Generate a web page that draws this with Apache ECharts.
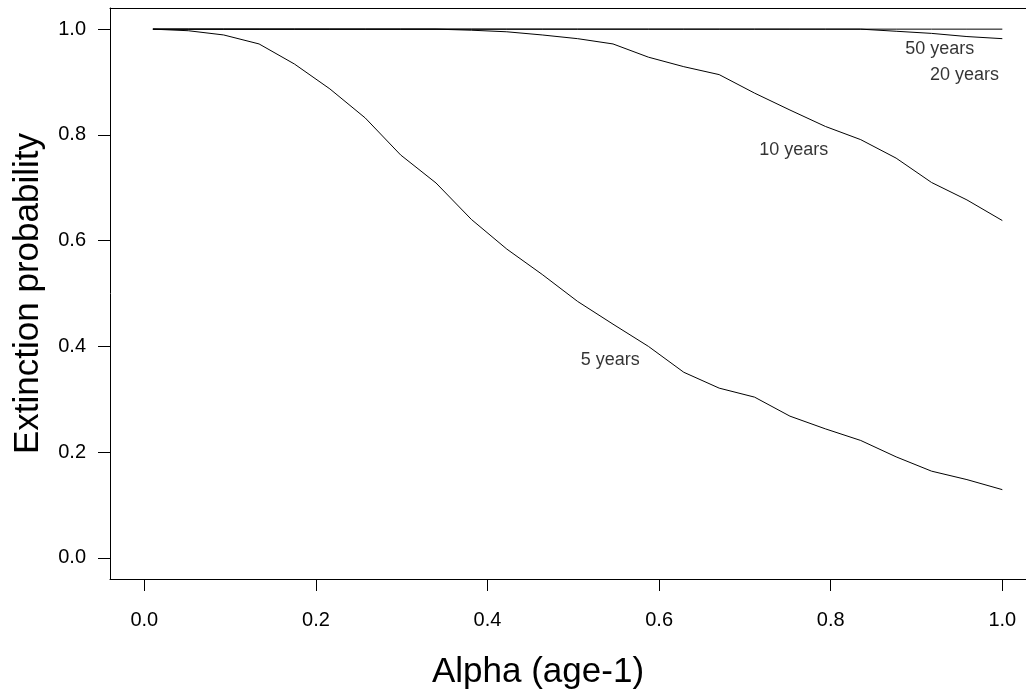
<!DOCTYPE html>
<html>
<head>
<meta charset="utf-8">
<script src="https://cdn.jsdelivr.net/npm/echarts@6/dist/echarts.min.js"></script>
<style>
html,body{margin:0;padding:0;background:#fff;}
#chart{width:1026px;height:695px;}
</style>
</head>
<body>
<div id="chart"></div>
<script>
// Alpha values (x)
var alpha = [0.01, 0.05125, 0.0925, 0.13375, 0.175, 0.21625, 0.2575, 0.29875, 0.34, 0.38125,
             0.4225, 0.46375, 0.505, 0.54625, 0.5875, 0.62875, 0.67, 0.71125, 0.7525, 0.79375,
             0.835, 0.87625, 0.9175, 0.95875, 1.0];
// Extinction probability by time horizon
var years5  = [1.000, 0.997, 0.989, 0.972, 0.934, 0.887, 0.832, 0.762, 0.709, 0.640,
               0.584, 0.536, 0.485, 0.442, 0.400, 0.351, 0.321, 0.304, 0.268, 0.244,
               0.222, 0.191, 0.164, 0.148, 0.129];
var years10 = [1.000, 1.000, 1.000, 1.000, 1.000, 1.000, 1.000, 1.000, 1.000, 0.998,
               0.995, 0.989, 0.982, 0.972, 0.947, 0.929, 0.914, 0.879, 0.847, 0.816,
               0.791, 0.756, 0.710, 0.677, 0.638];
var years20 = [1.000, 1.000, 1.000, 1.000, 1.000, 1.000, 1.000, 1.000, 1.000, 1.000,
               1.000, 1.000, 1.000, 1.000, 1.000, 1.000, 1.000, 1.000, 1.000, 1.000,
               1.000, 0.996, 0.992, 0.986, 0.982];
var years50 = [1.000, 1.000, 1.000, 1.000, 1.000, 1.000, 1.000, 1.000, 1.000, 1.000,
               1.000, 1.000, 1.000, 1.000, 1.000, 1.000, 1.000, 1.000, 1.000, 1.000,
               1.000, 1.000, 1.000, 1.000, 1.000];
// Tick values
var xTicks = [0.0, 0.2, 0.4, 0.6, 0.8, 1.0];
var yTicks = [0.0, 0.2, 0.4, 0.6, 0.8, 1.0];
// Curve annotations: [x, y, text]
var annotations = [
  [0.927, 0.962, '50 years'],
  [0.956, 0.914, '20 years'],
  [0.757, 0.772, '10 years'],
  [0.543, 0.375, '5 years']
];

function pairs(ys){ return alpha.map(function(x,i){ return [x, ys[i]]; }); }
var FONT = '"Liberation Sans", Arial, Helvetica, sans-serif';

function lineSeries(name, ys){
  return {
    name: name, type: 'line', data: pairs(ys), showSymbol: false, symbol: 'none',
    lineStyle: {color: '#000', width: 1}, silent: true, z: 3
  };
}

// the plot box runs past the right edge of the picture (x axis clipped at ~1.028)
var X_MIN = -0.04, X_MAX = 1.0276;

var chart = echarts.init(document.getElementById('chart'), null, {renderer: 'canvas'});
chart.setOption({
  animation: false,
  backgroundColor: '#fff',
  textStyle: {fontFamily: FONT},
  grid: {left: 110, top: 8, right: 0, bottom: 115.5, show: false},
  xAxis: [{
    type: 'value', min: X_MIN, max: X_MAX,
    name: 'Alpha (age-1)', nameLocation: 'middle', nameGap: 76,
    nameTextStyle: {fontSize: 35, color: '#000', fontFamily: FONT, padding: [0, 60, 0, 0]},
    axisLine: {show: true, onZero: false, lineStyle: {color: '#000', width: 1}},
    axisTick: {show: true, inside: false, length: 12, customValues: xTicks,
               lineStyle: {color: '#000', width: 1}},
    axisLabel: {show: true, customValues: xTicks, margin: 31, fontSize: 20, color: '#000',
                fontFamily: FONT, formatter: function(v){ return v.toFixed(1); }},
    splitLine: {show: false}
  }, {
    type: 'value', position: 'top', min: X_MIN, max: X_MAX,
    axisLine: {show: true, onZero: false, lineStyle: {color: '#000', width: 1}},
    axisTick: {show: false}, axisLabel: {show: false}, splitLine: {show: false}
  }],
  yAxis: {
    type: 'value', min: -0.04, max: 1.04,
    name: 'Extinction probability', nameLocation: 'middle', nameGap: 64, nameRotate: 90,
    nameTextStyle: {fontSize: 35, color: '#000', fontFamily: FONT},
    axisLine: {show: true, onZero: false, lineStyle: {color: '#000', width: 1}},
    axisTick: {show: true, inside: false, length: 12, customValues: yTicks,
               lineStyle: {color: '#000', width: 1}},
    axisLabel: {show: true, customValues: yTicks, margin: 24, fontSize: 20, color: '#000',
                fontFamily: FONT, formatter: function(v){ return v.toFixed(1); }},
    splitLine: {show: false}
  },
  series: [
    lineSeries('5 years', years5),
    lineSeries('10 years', years10),
    lineSeries('20 years', years20),
    lineSeries('50 years', years50),
    {
      type: 'scatter', data: annotations, symbolSize: 1, silent: true,
      itemStyle: {color: 'rgba(0,0,0,0)'},
      label: {show: true, position: 'inside', fontSize: 18, color: '#000', fontFamily: FONT,
              formatter: function(p){ return p.data[2]; }},
      z: 4
    }
  ]
});
</script>
</body>
</html>
